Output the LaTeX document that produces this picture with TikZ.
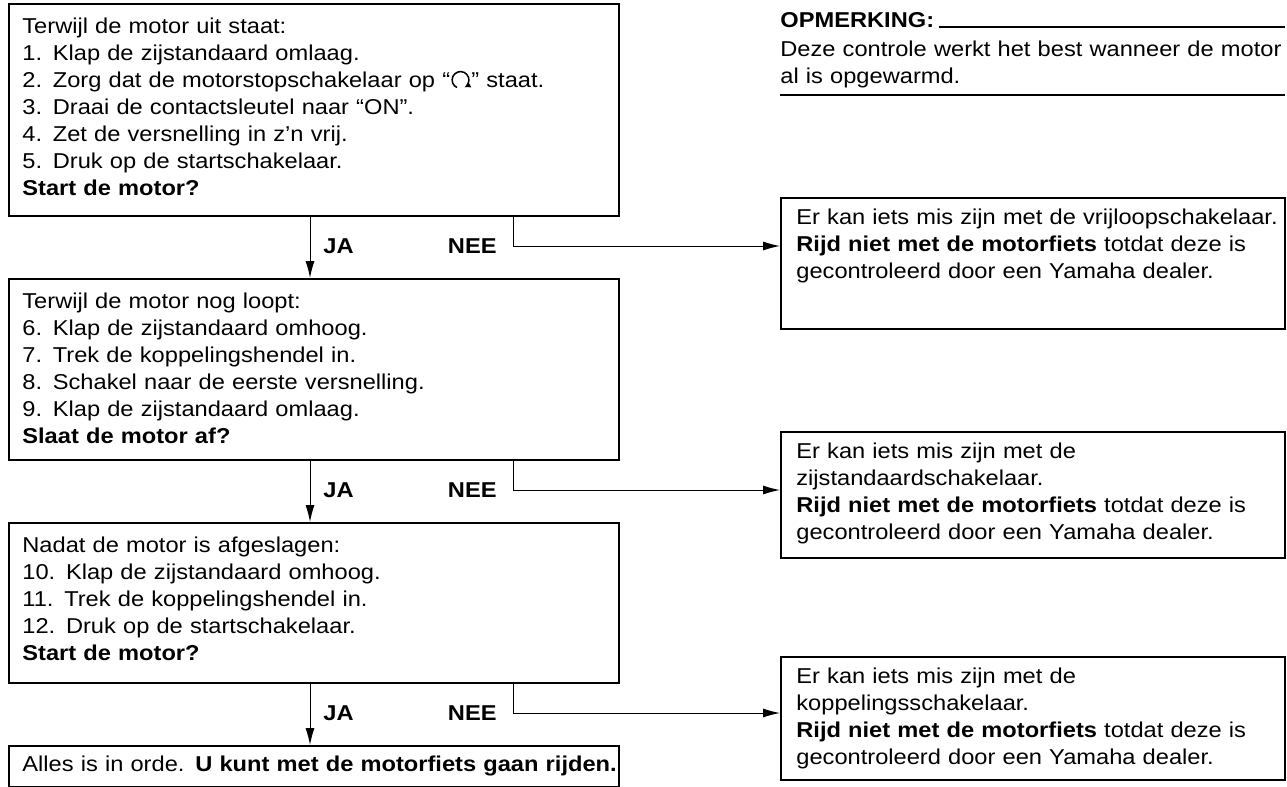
\documentclass[tikz,border=0pt]{standalone}
\usepackage{fontspec}
\setmainfont{Liberation Sans}[FakeStretch=1.1]
\usetikzlibrary{arrows.meta}

\newcommand{\runsym}{\tikz[baseline=-4pt]\draw[line width=0.75pt,-{Latex[length=3pt,width=3.4pt]}] (245:4.2pt) arc[start angle=245,end angle=-62,radius=4.2pt];}

\begin{document}
\begin{tikzpicture}[x=0.5pt,y=-0.5pt,font=\fontsize{10.75}{13.5}\selectfont,stepbox/.style={draw,line width=1pt,anchor=north west,inner sep=0pt},steptext/.style={anchor=north west,align=left,inner sep=0pt,text width=310pt},flow/.style={line width=0.5pt,-{Latex[length=8.5pt,width=4.5pt]}},answer/.style={font=\fontsize{10.75}{13.5}\selectfont\bfseries,anchor=base west,inner sep=0pt},rule/.style={line width=0.6pt}]
\useasboundingbox (0,0) rectangle (1287,787);
\coordinate (jax) at (310,0);
\coordinate (neex) at (513,0);
\coordinate (row1) at (0,246);
\coordinate (row2) at (0,490);
\coordinate (row3) at (0,713);
\coordinate (noteR) at (1285,0);
\coordinate (noteL) at (780,95);
% left column
\node[stepbox,minimum width=305pt,minimum height=106pt] (b1) at (8,3) {};
\node[stepbox,minimum width=305pt,minimum height=90.5pt] (b2) at (8,278) {};
\node[stepbox,minimum width=305pt,minimum height=80pt] (b3) at (8,522) {};
\node[stepbox,minimum width=305pt,minimum height=20.5pt] (b4) at (8,745) {};
\node[steptext] (t1) at ([shift={(14,15)}]b1.north west) {Terwijl de motor uit staat:\\1. Klap de zijstandaard omlaag.\\2. Zorg dat de motorstopschakelaar op “\runsym” staat.\\3. Draai de contactsleutel naar “ON”.\\4. Zet de versnelling in z’n vrij.\\5. Druk op de startschakelaar.\\\textbf{Start de motor?}};
\node[steptext] (t2) at ([shift={(14,15)}]b2.north west) {Terwijl de motor nog loopt:\\6. Klap de zijstandaard omhoog.\\7. Trek de koppelingshendel in.\\8. Schakel naar de eerste versnelling.\\9. Klap de zijstandaard omlaag.\\\textbf{Slaat de motor af?}};
\node[steptext] (t3) at ([shift={(14,15)}]b3.north west) {Nadat de motor is afgeslagen:\\10. Klap de zijstandaard omhoog.\\11. Trek de koppelingshendel in.\\12. Druk op de startschakelaar.\\\textbf{Start de motor?}};
\node[steptext] (t4) at ([shift={(14,11)}]b4.north west) {Alles is in orde. \textbf{U kunt met de motorfiets gaan rijden.}};
% right column
\node[stepbox,minimum width=252pt,minimum height=65.5pt] (r1) at (780,197) {};
\node[stepbox,minimum width=252pt,minimum height=63pt] (r2) at (780,431) {};
\node[stepbox,minimum width=252pt,minimum height=61.5pt] (r3) at (780,656) {};
\node[steptext,text width=250pt] (u1) at ([shift={(16,12)}]r1.north west) {Er kan iets mis zijn met de vrijloopschakelaar.\\\textbf{Rijd niet met de motorfiets} totdat deze is\\gecontroleerd door een Yamaha dealer.};
\node[steptext,text width=250pt] (u2) at ([shift={(16,12)}]r2.north west) {Er kan iets mis zijn met de\\zijstandaardschakelaar.\\\textbf{Rijd niet met de motorfiets} totdat deze is\\gecontroleerd door een Yamaha dealer.};
\node[steptext,text width=250pt] (u3) at ([shift={(16,12)}]r3.north west) {Er kan iets mis zijn met de\\koppelingsschakelaar.\\\textbf{Rijd niet met de motorfiets} totdat deze is\\gecontroleerd door een Yamaha dealer.};
% JA / NEE
\draw[flow] (b1.south -| jax) -- (b2.north -| jax);
\draw[flow] (b2.south -| jax) -- (b3.north -| jax);
\draw[flow] (b3.south -| jax) -- (b4.north -| jax);
\draw[flow] (b1.south -| neex) |- (r1.west |- row1);
\draw[flow] (b2.south -| neex) |- (r2.west |- row2);
\draw[flow] (b3.south -| neex) |- (r3.west |- row3);
\node[answer] (ja1) at (323,253) {JA};
\node[answer,anchor=base east] (nee1) at (497,253) {NEE};
\node[answer] (ja2) at (323,497) {JA};
\node[answer,anchor=base east] (nee2) at (497,497) {NEE};
\node[answer] (ja3) at (323,720) {JA};
\node[answer,anchor=base east] (nee3) at (497,720) {NEE};
% opmerking
\node[answer] (opm) at (780,27) {OPMERKING:};
\draw[rule] ([xshift=2pt]opm.base east) -- (opm.base east -| noteR);
\node[steptext,text width=260pt] (note) at ([shift={(0,13.5)}]opm.base west) {Deze controle werkt het best wanneer de motor\\al is opgewarmd.};
\draw[rule] (noteL) -- (noteL -| noteR);
\end{tikzpicture}
\end{document}
